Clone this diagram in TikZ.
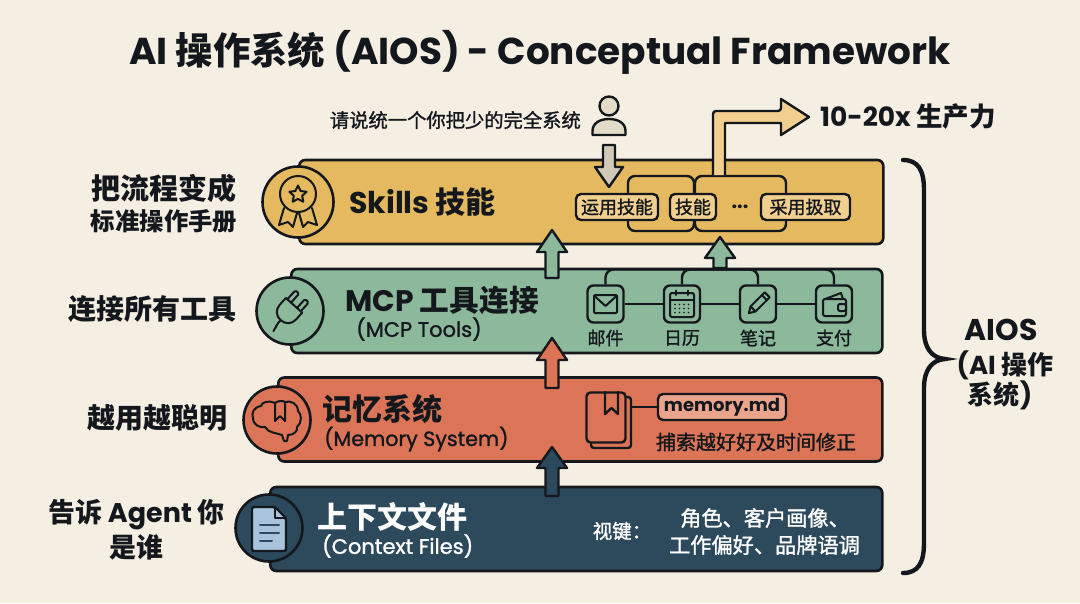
\documentclass[tikz,border=0pt]{standalone}
\usepackage{fontspec}
\setmainfont{Poppins}
\newfontfamily\cjk{Noto Sans CJK SC}
\newfontfamily\cjkm[FakeBold=1.3]{Noto Sans CJK SC}
\newfontfamily\popm[FakeBold=1.3]{Poppins}
\newcommand{\zh}[1]{{\cjk #1}}
\newcommand{\fs}[1]{\fontsize{#1}{#1}\selectfont}
\definecolor{bgc}{HTML}{F5EFE3}
\definecolor{ink}{HTML}{14181C}
\definecolor{gold}{HTML}{E5B95F}
\definecolor{goldl}{HTML}{F0CF8F}
\definecolor{sage}{HTML}{8CB89B}
\definecolor{coral}{HTML}{DC7558}
\definecolor{coralL}{HTML}{EBA48C}
\definecolor{navy}{HTML}{2C4A5C}
\definecolor{paper}{HTML}{A9C4DA}
\definecolor{greyc}{HTML}{E3DCC8}
\tikzset{
 band/.style={draw=ink,line width=2.6pt,rounded corners=6pt,inner sep=0pt,anchor=west},
 disc/.style={circle,draw=ink,line width=2.6pt,inner sep=0pt},
 pill/.style={draw=ink,line width=2.4pt,rounded corners=5pt,fill=goldl,inner sep=0pt,font=\fs{18}\cjkm,text=ink},
 sidetext/.style={text=ink,inner sep=0pt},
 tooltext/.style={font=\fs{18}\cjkm,text=ink,inner sep=0pt},
 ibox/.style={draw=ink,line width=2.4pt,rounded corners=6pt,fill=sage,minimum width=36pt,minimum height=37pt,inner sep=0pt},
 lnk/.style={draw=ink,line width=2.4pt},
 ic/.style={draw=ink,line width=2pt,line join=round,line cap=round},
 blockarrow/.style={draw=ink,line width=2.4pt,line join=round},
}
\newcommand{\uparrowshape}[7]{% x tip headbottom base halfshaft halfhead fill
 \path[blockarrow,fill=#7] (#1,#2) -- (#1+#6,#3) -- (#1+#5,#3) -- (#1+#5,#4) -- (#1-#5,#4) -- (#1-#5,#3) -- (#1-#6,#3) -- cycle;}
\begin{document}
\begin{tikzpicture}[x=1pt,y=-1pt]
\useasboundingbox (0,0) rectangle (1080,603);
\fill[bgc] (0,0) rectangle (1080,603);

\node[font=\fs{37.4}\bfseries,text=ink,inner sep=0pt] (title) at (540,52) {AI \zh{操作系统} (AIOS) - Conceptual Framework};

% bands
\node[band,fill=gold,minimum width=584pt,minimum height=84pt] (skills) at (298,202) {};
\node[band,fill=sage,minimum width=591pt,minimum height=84pt] (mcp) at (290,311) {};
\node[band,fill=coral,minimum width=604pt,minimum height=84pt] (mem) at (277,419.5) {};
\node[band,fill=navy,minimum width=612pt,minimum height=84pt] (ctx) at (269,529) {};

% discs
\node[disc,fill=gold,minimum size=71pt] (d1) at (298,202) {};
\node[disc,fill=sage,minimum size=67pt] (d2) at (290,311) {};
\node[disc,fill=coral,minimum size=67pt] (d3) at (277,420) {};
\node[disc,fill=navy,minimum size=67pt] (d4) at (269,528) {};

% medal
\draw[ic] (284,208) -- (279,225) -- (288,222) -- (293,227) -- (297,213);
\draw[ic] (312,208) -- (317,225) -- (308,222) -- (303,227) -- (299,213);
\draw[ic,fill=gold] (298,194) circle (18);
\draw[ic] (298,185.5) -- (300.6,191) -- (306.6,191.8) -- (302.2,195.8) -- (303.3,201.8) -- (298,198.9) -- (292.7,201.8) -- (293.8,195.8) -- (289.4,191.8) -- (295.4,191) -- cycle;

% plug
\begin{scope}[shift={(288,312)},rotate=-42]
\draw[ic] (-11,-9) -- (11,-9) -- (11,0) .. controls (11,7) and (6,11) .. (0,11) .. controls (-6,11) and (-11,7) .. (-11,0) -- cycle;
\draw[ic,rounded corners=1.5pt] (-9,-9) -- (-9,-21) -- (-4,-21) -- (-4,-9);
\draw[ic,rounded corners=1.5pt] (4,-9) -- (4,-21) -- (9,-21) -- (9,-9);
\draw[ic] (0,11) -- (0,15) -- (2,24);
\end{scope}

% brain
\draw[ic] (275,403) .. controls (268,400) and (262,402) .. (261,406) .. controls (254,407) and (251,413) .. (253,418) .. controls (253,425) and (260,428) .. (265,427) .. controls (268,433) and (277,433) .. (282,435) -- (284,441) -- (287,441) -- (288,435) .. controls (294,435) and (298,431) .. (297,427) .. controls (302,423) and (302,414) .. (298,411) .. controls (298,404) and (291,400) .. (285,402) .. controls (282,400) and (278,401) .. (275,403) -- cycle;
\draw[ic] (275,403) -- (275,421) -- (280,416) -- (285,421) -- (285,402);

% doc
\draw[ic,fill=paper,line width=2.4pt,rounded corners=2pt] (252,507) -- (275,507) -- (286,518) -- (286,551) -- (252,551) -- cycle;
\draw[ic] (275,507) -- (275,518) -- (286,518);
\draw[ic,draw=navy] (260,525) -- (279,525) (260,533) -- (279,533) (260,541) -- (272,541);

% band titles
\node[font=\fs{30}\bfseries,text=ink,inner sep=0pt,anchor=west] (t1) at (349,202) {Skills \zh{技能}};
\node[font=\fs{29.7}\bfseries,text=ink,inner sep=0pt,anchor=west] (t2) at (345,300) {MCP \zh{工具连接}};
\node[font=\fs{21}\popm,text=ink,inner sep=0pt,anchor=west] (t2b) at (356,329) {(MCP Tools)};
\node[font=\fs{30}\bfseries\cjk,text=ink,inner sep=0pt,anchor=west] (t3) at (322,409) {记忆系统};
\node[font=\fs{20.6}\popm,text=ink,inner sep=0pt,anchor=west] (t3b) at (324,439) {(Memory System)};
\node[font=\fs{30}\bfseries\cjk,text=white,inner sep=0pt,anchor=west] (t4) at (317,517) {上下文文件};
\node[font=\fs{21}\popm,text=white,inner sep=0pt,anchor=west] (t4b) at (322,546) {(Context Files)};

% left labels
\node[sidetext,font=\fs{29}\bfseries\cjk] (l1a) at (164,188) {把流程变成};
\node[sidetext,font=\fs{24.4}\bfseries\cjk] (l1b) at (164,221) {标准操作手册};
\node[sidetext,font=\fs{28}\bfseries\cjk] (l2) at (152.5,309) {连接所有工具};
\node[sidetext,font=\fs{28}\bfseries\cjk] (l3) at (157,418) {越用越聪明};
\node[sidetext,font=\fs{27}\bfseries] (l4a) at (136.5,515) {\zh{告诉} Agent \zh{你}};
\node[sidetext,font=\fs{27}\bfseries\cjk] (l4b) at (136,547) {是谁};

% top
\node[font=\fs{19.3}\cjkm,text=ink,inner sep=0pt,anchor=east] (ask) at (581,120) {请说统一个你把少的完全系统};
\node[font=\fs{26.5}\bfseries,text=ink,inner sep=0pt,anchor=west] (gain) at (820,117) {10-20x \zh{生产力}};
\draw[ic,line width=2.4pt,fill=greyc] (609,106) circle (9.5);
\draw[ic,line width=2.4pt,fill=greyc] (592.5,135) -- (592.5,131) .. controls (592.5,123) and (600,119) .. (609,119) .. controls (618,119) and (625.5,123) .. (625.5,131) -- (625.5,135) -- cycle;

% skill sub-frames
\node[draw=ink,line width=2.4pt,rounded corners=7pt,inner sep=0pt,minimum width=66pt,minimum height=55pt] (fa) at (661,203.5) {};
\node[draw=ink,line width=2.4pt,rounded corners=7pt,inner sep=0pt,minimum width=91pt,minimum height=55pt] (fb) at (740.5,203.5) {};
\node[pill,minimum width=82pt,minimum height=26pt] (p1) at (617,207) {运用技能};
\node[pill,minimum width=46pt,minimum height=26pt] (p2) at (693,207) {技能};
\node[font=\fs{20}\bfseries,text=ink,inner sep=0pt] (dots) at (740,207) {...};
\node[pill,minimum width=89pt,minimum height=26pt] (p3) at (805.5,207) {采用扱取};

% arrows
\path[blockarrow,fill=greyc!92!black] (609,187) -- (623,167) -- (615,167) -- (615,145) -- (603,145) -- (603,167) -- (595,167) -- cycle;
\path[blockarrow,fill=goldl] (713,175) -- (713,115) [rounded corners=3pt] -- (713,111) -- (781,111) [sharp corners] -- (781,99) -- (809,117) -- (781,135) -- (781,123) -- (725,123) -- (725,175);
\uparrowshape{552}{230}{252}{278}{6.5}{15}{sage}
\uparrowshape{720}{237}{258}{268}{6.5}{15}{sage}
\uparrowshape{552}{338}{360}{388}{6.5}{15}{coral}
\uparrowshape{552}{447}{468}{496}{6.5}{15}{navy}

% MCP tools
\node[ibox] (b1) at (605.5,304) {};
\node[ibox] (b2) at (682,304) {};
\node[ibox] (b3) at (758,304) {};
\node[ibox] (b4) at (834,304) {};
\draw[lnk] (b1) -- (b2);
\draw[lnk] (b2) -- (b3);
\draw[lnk] (b3) -- (b4);
\coordinate (railR) at (834,269.5);
\coordinate (railM) at (720,269.5);
\draw[lnk,rounded corners=8pt] (b1.north) |- (railR) -- (b4.north);
\draw[lnk,rounded corners=8pt] (b2.north) |- (railM);
\draw[lnk,rounded corners=8pt] (b3.north) |- (railM);
% mail
\draw[ic,rounded corners=1pt] (594,295) rectangle (617,313);
\draw[ic] (594.5,296) -- (605.5,306) -- (616.5,296);
% calendar
\draw[ic,rounded corners=2pt] (670,293) rectangle (694,317);
\draw[ic] (670,300) -- (694,300) (676,290.5) -- (676,295) (688,290.5) -- (688,295);
\foreach \gx in {675,679.5,684,688.5} \foreach \gy in {304.5,308.5,312.5} \fill[ink] (\gx,\gy) circle (0.9);
% pencil
\begin{scope}[shift={(758,304)},rotate=-45]
\draw[ic] (-3.5,-13) -- (3.5,-13) -- (3.5,7) -- (0,13) -- (-3.5,7) -- cycle;
\draw[ic] (-3.5,-9) -- (3.5,-9);
\draw[ic] (-3.5,7) -- (3.5,7);
\end{scope}
% wallet
\draw[ic,rounded corners=2pt] (823,299) rectangle (846,316);
\draw[ic] (825,299) -- (841,293) -- (843,299);
\draw[ic,fill=sage,rounded corners=2pt] (838,304) rectangle (846,311);
% tool labels
\node[tooltext] (lb1) at (605.5,338) {邮件};
\node[tooltext] (lb2) at (682,338) {日历};
\node[tooltext] (lb3) at (758,338) {笔记};
\node[tooltext] (lb4) at (834,338) {支付};

% memory contents
\draw[ic,line width=2.4pt,rounded corners=3pt] (626,397) -- (631,397) -- (631,448) -- (591,448) -- (591,443);
\node[draw=ink,line width=2.4pt,rounded corners=4pt,fill=coral,inner sep=0pt,minimum width=39pt,minimum height=50pt] (book) at (606,417.5) {};
\draw[ic,line width=2.4pt] (605,392) -- (605,414) -- (611.5,408) -- (618,414) -- (618,392);
\node[draw=ink,line width=2.4pt,rounded corners=5pt,fill=coralL,inner sep=0pt,minimum width=128pt,minimum height=26pt,font=\fs{18}\bfseries,text=ink] (md) at (722,407) {memory.md};
\coordinate (bookr) at (631,407);
\draw[lnk] (bookr) -- (md.west);
\node[font=\fs{20}\cjkm,text=ink,inner sep=0pt] (memt) at (756,442) {捕索越好好及时间修正};

% context text
\node[font=\fs{19.5}\cjkm,text=white,inner sep=0pt] (k) at (622,531) {视键：};
\node[font=\fs{21.2}\cjkm,text=white,inner sep=0pt,anchor=west] (k1) at (680,518) {角色、客户画像、};
\node[font=\fs{21.2}\cjkm,text=white,inner sep=0pt] (k2) at (764.5,545) {工作偏好、品牌语调};

% brace
\draw[ink,line width=4.4pt,line cap=round] (903,160) .. controls (918,160) and (924,170) .. (924,190) -- (924,330) .. controls (924,347) and (931,358) .. (945,359) .. controls (931,360) and (924,371) .. (924,388) -- (924,543) .. controls (924,563) and (918,573) .. (903,573);
\node[font=\fs{30}\bfseries,text=ink,inner sep=0pt] (ai1) at (1001,330) {AIOS};
\node[font=\fs{26}\bfseries,text=ink,inner sep=0pt] (ai2) at (1005,365) {(AI \zh{操作}};
\node[font=\fs{26}\bfseries,text=ink,inner sep=0pt] (ai3) at (1000,395) {\zh{系统})};
\end{tikzpicture}
\end{document}
